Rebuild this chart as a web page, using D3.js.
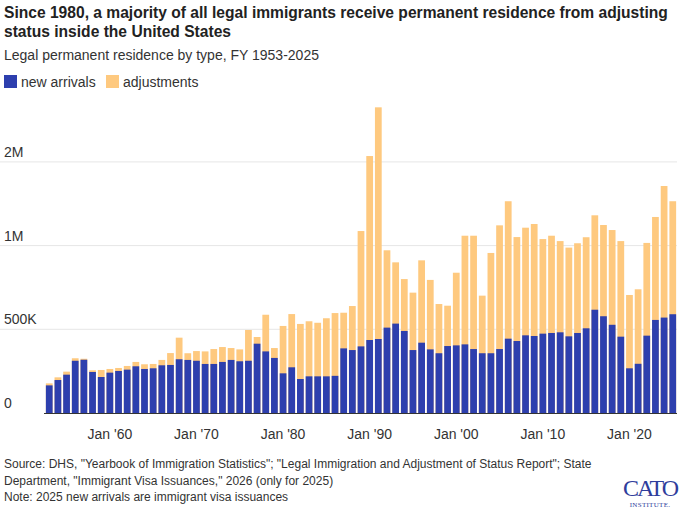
<!DOCTYPE html>
<html><head><meta charset="utf-8">
<script src="https://cdn.jsdelivr.net/npm/d3@7"></script>
<style>body{margin:0;background:#fff}svg{display:block;font-family:"Liberation Sans",Arial,sans-serif}</style>
</head><body><svg id="c" width="680" height="509"></svg>
<script>
const years = d3.range(1953, 2026);
const totals = [0.177,0.213,0.247,0.327,0.324,0.255,0.257,0.263,0.269,0.281,0.305,0.291,0.293,0.317,0.358,0.450,0.357,0.370,0.368,0.382,0.394,0.388,0.380,0.496,0.454,0.587,0.388,0.520,0.591,0.532,0.548,0.539,0.566,0.597,0.599,0.639,1.087,1.535,1.826,0.972,0.900,0.800,0.719,0.912,0.795,0.651,0.641,0.838,1.059,1.059,0.701,0.956,1.121,1.265,1.051,1.107,1.129,1.039,1.059,1.027,0.988,1.014,1.050,1.181,1.123,1.093,1.027,0.705,0.739,1.016,1.171,1.356,1.265];
const arrivals = [0.165,0.197,0.229,0.312,0.318,0.245,0.215,0.241,0.251,0.259,0.279,0.263,0.267,0.285,0.287,0.321,0.317,0.312,0.293,0.293,0.305,0.317,0.309,0.312,0.414,0.368,0.329,0.237,0.273,0.203,0.219,0.219,0.219,0.222,0.386,0.376,0.398,0.436,0.442,0.510,0.534,0.490,0.376,0.420,0.380,0.357,0.400,0.404,0.410,0.382,0.357,0.357,0.382,0.444,0.430,0.464,0.460,0.474,0.478,0.482,0.458,0.478,0.506,0.617,0.578,0.527,0.456,0.267,0.294,0.462,0.556,0.570,0.590];
const tickValues = [0, 0.5, 1, 1.5];
const tickLabels = ["0", "500K", "1M", "2M"];
const xTickYears = [1960, 1970, 1980, 1990, 2000, 2010, 2020];
const xTickLabels = ["Jan '60", "Jan '70", "Jan '80", "Jan '90", "Jan '00", "Jan '10", "Jan '20"];
const BLUE = "#2d3fae", ORANGE = "#fec97f";

const svg = d3.select("#c");
const x = d3.scaleBand().domain(years).range([45, 677]).paddingInner(0.22).paddingOuter(0.1);
const y = d3.scaleLinear().domain([0, 1.5]).range([413, 161.9]);

svg.append("text").attr("x",4).attr("y",18).attr("font-size",15.6).attr("font-weight","bold").attr("fill","#222")
  .text("Since 1980, a majority of all legal immigrants receive permanent residence from adjusting");
svg.append("text").attr("x",4).attr("y",37).attr("font-size",15.6).attr("font-weight","bold").attr("fill","#222")
  .text("status inside the United States");
svg.append("text").attr("x",4).attr("y",60).attr("font-size",14).attr("fill","#333")
  .text("Legal permanent residence by type, FY 1953-2025");
const leg = [["new arrivals", BLUE, 4], ["adjustments", ORANGE, 106]];
leg.forEach(([t,c,lx]) => {
  svg.append("rect").attr("x",lx).attr("y",75).attr("width",13).attr("height",13).attr("fill",c);
  svg.append("text").attr("x",lx+17).attr("y",87).attr("font-size",14).attr("fill","#333").text(t);
});

const g = svg.append("g");
tickValues.forEach((v,i) => {
  if (v > 0) g.append("line").attr("x1",0).attr("x2",677).attr("y1",y(v)).attr("y2",y(v)).attr("stroke","#e6e6e6");
  g.append("text").attr("x",4).attr("y",y(v)-5).attr("font-size",14).attr("fill","#333").text(tickLabels[i]);
});

g.selectAll(".t").data(years).join("rect").attr("x",d=>x(d)).attr("width",x.bandwidth())
  .attr("y",(d,i)=>y(totals[i])).attr("height",(d,i)=>y(0)-y(totals[i])).attr("fill",ORANGE);
g.selectAll(".a").data(years).join("rect").attr("x",d=>x(d)).attr("width",x.bandwidth())
  .attr("y",(d,i)=>y(arrivals[i])).attr("height",(d,i)=>y(0)-y(arrivals[i])).attr("fill",BLUE);
g.append("line").attr("x1",44).attr("x2",677).attr("y1",y(0)+0.5).attr("y2",y(0)+0.5).attr("stroke","#333");

xTickYears.forEach((yr,i) => {
  g.append("text").attr("x",x(yr)+x.bandwidth()/2).attr("y",439).attr("text-anchor","middle")
    .attr("font-size",14).attr("fill","#333").text(xTickLabels[i]);
});

const src = ['Source: DHS, "Yearbook of Immigration Statistics"; "Legal Immigration and Adjustment of Status Report"; State',
  'Department, "Immigrant Visa Issuances," 2026 (only for 2025)',
  'Note: 2025 new arrivals are immigrant visa issuances'];
src.forEach((t,i)=> svg.append("text").attr("x",4).attr("y",468+i*16.5).attr("font-size",12).attr("fill","#333").text(t));
svg.append("text").attr("x",650).attr("y",496).attr("text-anchor","middle").attr("font-family","Liberation Serif,serif")
  .attr("font-size",24).attr("fill","#2f3d9c").attr("letter-spacing",-2).text("CATO");
svg.append("text").attr("x",650).attr("y",507).attr("text-anchor","middle").attr("font-family","Liberation Serif,serif")
  .attr("font-size",7).attr("fill","#2f3d9c").attr("letter-spacing",0.3).text("INSTITUTE.");
</script></body></html>
